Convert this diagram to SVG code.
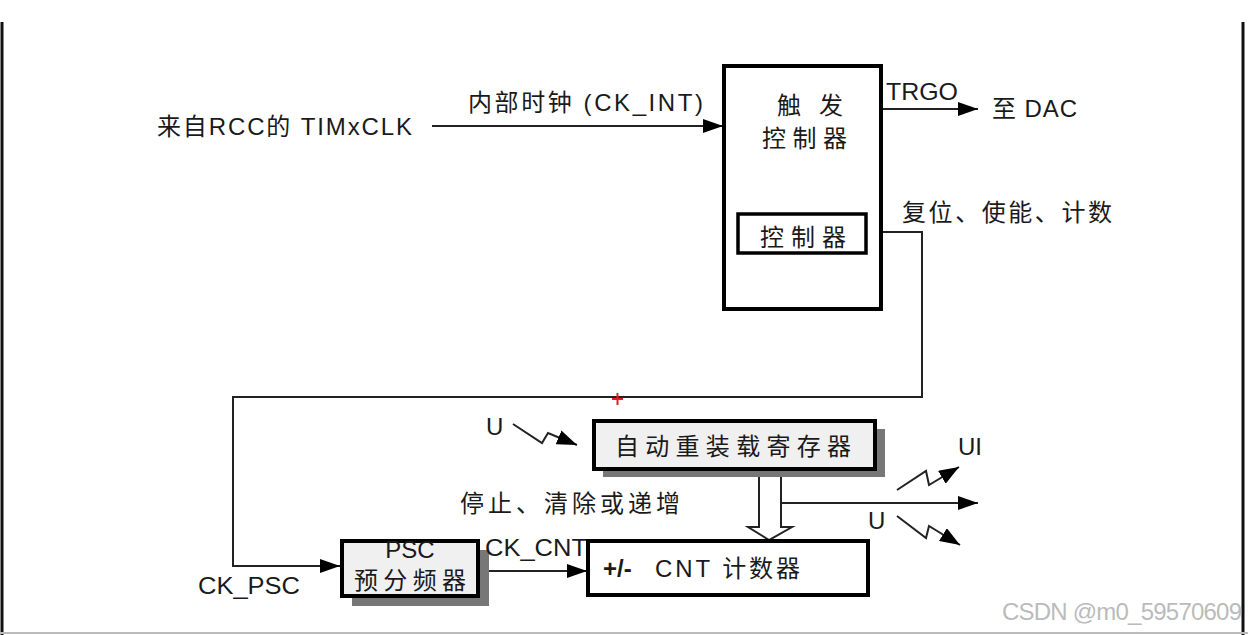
<svg xmlns="http://www.w3.org/2000/svg" width="1248" height="635" viewBox="0 0 1248 635">
<defs>
<style>
text{font-family:"Liberation Sans","Noto Sans CJK SC",sans-serif;fill:#1a1a1a;font-size:24px}
.cjk{font-family:"Noto Sans CJK SC","Liberation Sans",sans-serif}
.box{fill:#fff;stroke:#000;stroke-width:4}
.gbox{fill:#f0f0f0;stroke:#000;stroke-width:4}
.shadow{fill:#777}
.ln{fill:none;stroke:#222;stroke-width:2}
.frame{stroke:#111;stroke-width:3}
</style>
<marker id="ah" viewBox="0 0 20 14" refX="20" refY="7" markerWidth="20" markerHeight="14" markerUnits="userSpaceOnUse" orient="auto">
<path d="M0,0 L20,7 L0,14 Z" fill="#000"/>
</marker>
<marker id="ahs" viewBox="0 0 20 15" refX="20" refY="7.5" markerWidth="20" markerHeight="15" markerUnits="userSpaceOnUse" orient="auto">
<path d="M0,0 L20,7.5 L0,15 Z" fill="#000"/>
</marker>
</defs>
<rect width="1248" height="635" fill="#fff"/>
<g id="frame">
<line class="frame" x1="2" y1="22" x2="2" y2="635"/>
<line class="frame" x1="1243" y1="22" x2="1243" y2="635"/>
<line x1="0" y1="633" x2="1248" y2="633" stroke="#bbb" stroke-width="2"/>
</g>
<g id="connectors">
<line class="ln" x1="432" y1="126" x2="723" y2="126" marker-end="url(#ah)"/>
<line class="ln" x1="882" y1="109" x2="978" y2="109" marker-end="url(#ah)"/>
<polyline class="ln" points="867,232 922,232 922,397 233,397 233,566 340,566" marker-end="url(#ah)"/>
<line class="ln" x1="478" y1="571" x2="587" y2="571" marker-end="url(#ah)"/>
<path d="M759,470 L759,527 L748,527 L769,540 L792,527 L781,527 L781,470" fill="#fff" stroke="#222" stroke-width="2"/>
<line class="ln" x1="781" y1="503" x2="978" y2="503" marker-end="url(#ah)"/>
<path class="ln" d="M513,424 L542,443 L548,433 L577,445" marker-end="url(#ahs)"/>
<path class="ln" d="M897,490 L926,471 L929,485 L959,467" marker-end="url(#ahs)"/>
<path class="ln" d="M897,516 L926,538 L929,526 L960,545" marker-end="url(#ahs)"/>
</g>
<g id="input-label">
<text x="157" y="135" textLength="255" lengthAdjust="spacing">来自RCC的 TIMxCLK</text>
<text x="468" y="111" textLength="235" lengthAdjust="spacing">内部时钟 (CK_INT)</text>
</g>
<g id="trigger-controller">
<rect class="box" x="724" y="66" width="157" height="243"/>
<text x="777" y="114" class="cjk" textLength="66" lengthAdjust="spacing">触 发</text>
<text x="762" y="147" class="cjk" textLength="85" lengthAdjust="spacing">控制器</text>
</g>
<g id="controller">
<rect x="738" y="214" width="128" height="39" fill="#fff" stroke="#000" stroke-width="3.5"/>
<text x="760" y="246" class="cjk" textLength="86" lengthAdjust="spacing">控制器</text>
</g>
<g id="trgo-labels">
<text x="886" y="100" font-size="22" textLength="72" lengthAdjust="spacingAndGlyphs">TRGO</text>
<text x="992" y="117" textLength="85" lengthAdjust="spacing">至 DAC</text>
<text x="902" y="221" class="cjk" textLength="210" lengthAdjust="spacing">复位、使能、计数</text>
</g>
<g id="auto-reload">
<rect class="shadow" x="603" y="429" width="282" height="48"/>
<rect class="gbox" x="594" y="421" width="281" height="48"/>
<text x="615" y="455" class="cjk" textLength="236" lengthAdjust="spacing">自动重装载寄存器</text>
<text x="486" y="435" font-size="22">U</text>
</g>
<g id="psc">
<rect class="shadow" x="352" y="550" width="137" height="56"/>
<rect class="gbox" x="342" y="541" width="136" height="55"/>
<text x="410" y="558" text-anchor="middle" font-size="19">PSC</text>
<text x="354" y="589" class="cjk" font-size="21" textLength="112" lengthAdjust="spacing">预分频器</text>
<text x="198" y="594" textLength="102" lengthAdjust="spacingAndGlyphs">CK_PSC</text>
<text x="485" y="556" textLength="102" lengthAdjust="spacingAndGlyphs">CK_CNT</text>
</g>
<g id="cnt">
<rect class="box" x="588" y="541" width="280" height="54"/>
<text x="603" y="577" font-weight="bold" font-size="22">+/-</text>
<text x="655" y="577" font-size="25" textLength="145" lengthAdjust="spacing">CNT 计数器</text>
</g>
<g id="other-labels">
<text x="460" y="512" class="cjk" textLength="220" lengthAdjust="spacing">停止、清除或递增</text>
<text x="958" y="455" font-size="22">UI</text>
<text x="868" y="529" font-size="22">U</text>
</g>
<g id="cursor">
<line x1="612" y1="399" x2="623" y2="399" stroke="#e02020" stroke-width="2"/>
<line x1="617.5" y1="393" x2="617.5" y2="405" stroke="#e02020" stroke-width="2"/>
</g>
<text x="1002" y="620" font-size="18" style="fill:#bbb" textLength="240" lengthAdjust="spacing">CSDN @m0_59570609</text>
</svg>
